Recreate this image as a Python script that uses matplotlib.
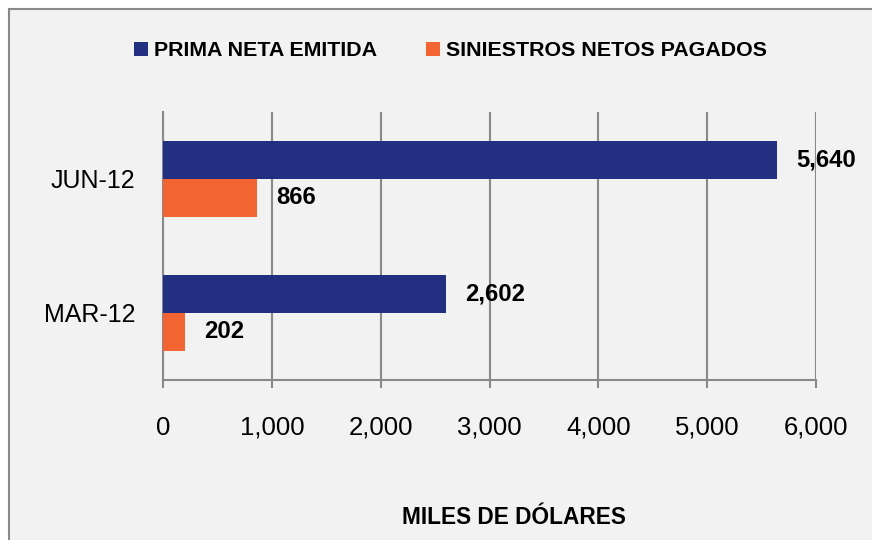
import matplotlib
matplotlib.use("Agg")
import matplotlib.pyplot as plt
from matplotlib.patches import Rectangle, Patch

# ---- data ----
categories = ["MAR-12", "JUN-12"]
prima_neta = [2602, 5640]
siniestros = [202, 866]
series_names = ["PRIMA NETA EMITIDA", "SINIESTROS NETOS PAGADOS"]
x_ticks = [0, 1000, 2000, 3000, 4000, 5000, 6000]
x_label = "MILES DE DÓLARES"

plt.rcParams["font.family"] = ["Liberation Sans", "DejaVu Sans"]

BLUE = "#233082"
ORANGE = "#F26532"
GRID = "#898989"
BG = "#F2F2F2"

W, H = 872, 540
fig = plt.figure(figsize=(W / 100, H / 100), dpi=100, facecolor="white")

# chart area border (top-left visible, right/bottom cropped)
fig.patches.append(Rectangle((8.5 / W, -0.1), 1.2, (H - 8.5) / H + 0.1,
                             transform=fig.transFigure, facecolor=BG,
                             edgecolor=GRID, linewidth=1.5, zorder=-10))

ax = fig.add_axes([163 / W, (H - 380) / H, (816 - 163) / W, (380 - 112) / H])
ax.set_facecolor("none")
ax.set_zorder(2)

h = 0.283
ypos = list(range(len(categories)))
b1 = ax.barh([y + h / 2 for y in ypos], prima_neta, height=h, color=BLUE, zorder=3)
b2 = ax.barh([y - h / 2 for y in ypos], siniestros, height=h, color=ORANGE, zorder=3)

for bars, vals in ((b1, prima_neta), (b2, siniestros)):
    for rect, v in zip(bars, vals):
        ax.annotate(f"{v:,}", xy=(v, rect.get_y() + rect.get_height() / 2),
                    xytext=(13.7, 0), textcoords="offset points",
                    ha="left", va="center", fontsize=17.2,
                    fontweight="bold", color="black", zorder=4,
                    annotation_clip=False)

ax.set_xlim(0, 6000)
ax.set_ylim(-0.5, 1.5)
ax.set_xticks(x_ticks)
ax.set_xticklabels([f"{t:,}" for t in x_ticks])
ax.set_yticks(ypos)
ax.set_yticklabels(categories)
ax.xaxis.grid(True, color=GRID, linewidth=1.5, zorder=1)
ax.set_axisbelow(True)
for s in ("top", "right"):
    ax.spines[s].set_visible(False)
for s in ("left", "bottom"):
    ax.spines[s].set_color(GRID)
    ax.spines[s].set_linewidth(1.5)
ax.tick_params(axis="x", direction="out", length=5.8, width=1.5, color=GRID,
               pad=20, labelsize=18.5, labelcolor="black")
ax.tick_params(axis="y", length=0, pad=20, labelsize=18, labelcolor="black")

handles = [Patch(facecolor=BLUE), Patch(facecolor=ORANGE)]
fig.legend(handles, series_names, loc="center", bbox_to_anchor=(450.5 / W, 1 - 51 / H),
           ncol=2, frameon=False, prop={"size": 15.4, "weight": "bold"},
           handlelength=0.65, handleheight=0.65, handletextpad=0.28,
           columnspacing=2.29, borderpad=0, borderaxespad=0)

fig.text(514 / W, 1 - 518 / H, x_label, ha="center", va="center",
         fontsize=16.3, fontweight="bold", color="black")

fig.savefig("out.png", dpi=100, facecolor="white")
